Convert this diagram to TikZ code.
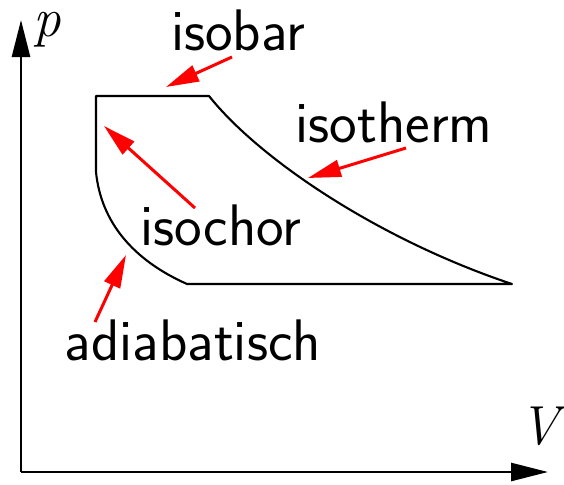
\documentclass[tikz,border=0pt]{standalone}
\usepackage{fontspec}
\usetikzlibrary{arrows.meta}
\tikzset{
  axis/.style={line width=1.35pt, -{Triangle[length=18.5pt,width=9pt]}},
  cycle/.style={line width=1.05pt, line join=round},
  pointer/.style={red, line width=1.5pt, -{Triangle[length=16.5pt,width=8.5pt]}},
  lbl/.style={inner sep=0pt, font=\fontsize{29.3}{34}\selectfont\sffamily},
  axlbl/.style={inner sep=0pt, font=\fontsize{27.5}{32}\selectfont\rmfamily\itshape},
}
\begin{document}
\begin{tikzpicture}[x=0.5pt, y=-0.5pt]
\useasboundingbox (0,0) rectangle (564,484);
% axes
\coordinate (O) at (21,472);
\coordinate (ptop) at (21,20);
\coordinate (vend) at (548,472);
\draw[axis] (O) -- (ptop);
\draw[axis] (O) -- (vend);
\node[axlbl, anchor=base west] (plabel) at (33,36) {p};
\node[axlbl, anchor=base west] (vlabel) at (519,444) {V};
% cycle corners
\coordinate (A) at (96,96);
\coordinate (B) at (209,96);
\coordinate (C) at (512,284);
\coordinate (D) at (187,284);
\coordinate (E) at (96,172);
\draw[cycle] (A) -- (B) .. controls (260,160) and (380,240) .. (C)
  -- (D) .. controls (133,260) and (101,222) .. (E) -- cycle;
% labels
\node[lbl, anchor=base] (isobar) at (238,50) {isobar};
\node[lbl, anchor=base] (isotherm) at (394,142) {isotherm};
\node[lbl, anchor=base] (isochor) at (221,245) {isochor};
\node[lbl, anchor=base] (adiab) at (193,360) {adiabatisch};
% pointers
\coordinate (t1) at (232,57);  \coordinate (h1) at (166,87);
\coordinate (t2) at (406,148); \coordinate (h2) at (308,178);
\coordinate (t3) at (195,208); \coordinate (h3) at (104,126);
\coordinate (t4) at (95,322);  \coordinate (h4) at (126,255);
\draw[pointer] (t1) -- (h1);
\draw[pointer] (t2) -- (h2);
\draw[pointer] (t3) -- (h3);
\draw[pointer] (t4) -- (h4);
\end{tikzpicture}
\end{document}
